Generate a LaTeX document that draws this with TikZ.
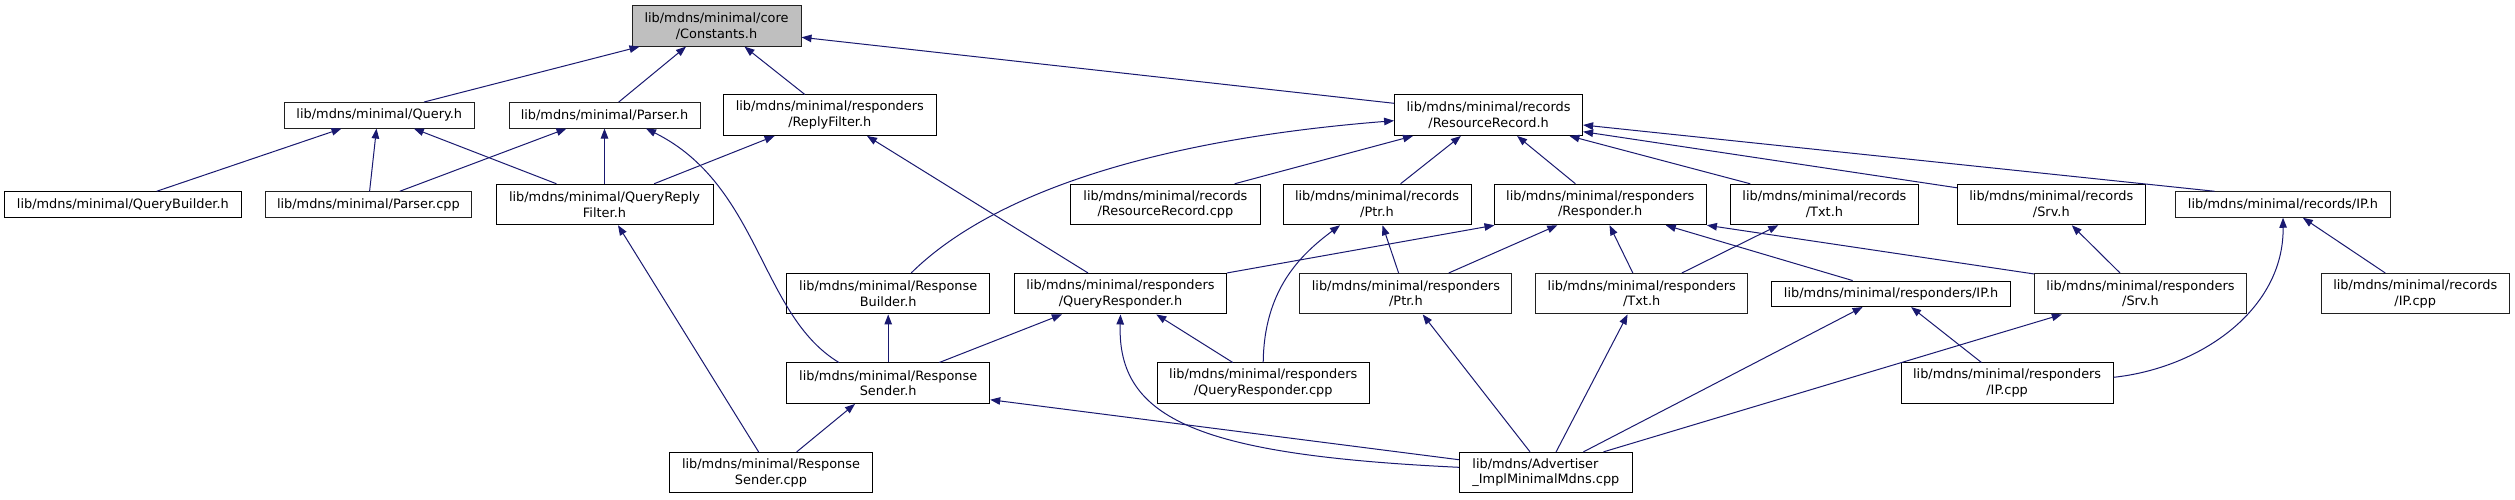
\documentclass[tikz,border=0pt]{standalone}
\usepackage{fontspec}
\setmainfont{DejaVu Sans}
\usetikzlibrary{arrows.meta,calc}
\definecolor{edgecol}{HTML}{191970}
\definecolor{graybord}{HTML}{202020}
\definecolor{rootfill}{HTML}{BFBFBF}
\begin{document}
\begin{tikzpicture}[x=1pt,y=-1pt,
  box/.style={draw=black, line width=1pt, fill=white, inner sep=0pt, align=center,
    font=\fontsize{12.9}{15.7}\selectfont, minimum height=25.5pt},
  two/.style={minimum height=40.5pt},
  gbox/.style={box, draw=graybord},
  arr/.style={draw=edgecol, line width=1pt, -{Triangle[length=10pt,width=7.5pt]}}
]
\useasboundingbox[fill=white] (0,0) rectangle (2515,499);

% row 0
\node[gbox,two,fill=rootfill,minimum width=169pt] (const) at (716.5,25.9) {lib/mdns/minimal/core\\/Constants.h};
% row 1
\node[gbox,minimum width=189.5pt] (query) at (379.3,115.3) {lib/mdns/minimal/Query.h};
\node[gbox,minimum width=191pt] (parserh) at (604.5,115.3) {lib/mdns/minimal/Parser.h};
\node[box,two,minimum width=212.4pt] (replyfilter) at (829.8,115.2) {lib/mdns/minimal/responders\\/ReplyFilter.h};
\node[box,two,minimum width=188pt] (rrh) at (1488.6,115.2) {lib/mdns/minimal/records\\/ResourceRecord.h};
% row 2
\node[box,minimum width=236.2pt] (qbuilder) at (122.9,204.5) {lib/mdns/minimal/QueryBuilder.h};
\node[gbox,minimum width=206.7pt] (parsercpp) at (368.4,204.5) {lib/mdns/minimal/Parser.cpp};
\node[box,two,minimum width=217pt] (qreplyfilter) at (604.5,204.5) {lib/mdns/minimal/QueryReply\\Filter.h};
\node[box,two,minimum width=189.3pt] (rrcpp) at (1165.4,204.5) {lib/mdns/minimal/records\\/ResourceRecord.cpp};
\node[box,two,minimum width=188pt] (recptr) at (1377,204.5) {lib/mdns/minimal/records\\/Ptr.h};
\node[box,two,minimum width=212.4pt] (responder) at (1600.2,204.5) {lib/mdns/minimal/responders\\/Responder.h};
\node[box,two,minimum width=187.8pt] (rectxt) at (1824.4,204.5) {lib/mdns/minimal/records\\/Txt.h};
\node[box,two,minimum width=188pt] (recsrv) at (2051.3,204.5) {lib/mdns/minimal/records\\/Srv.h};
\node[gbox,minimum width=215pt] (recip) at (2283,204.5) {lib/mdns/minimal/records/IP.h};
% row 3
\node[box,two,minimum width=203pt] (rbuilder) at (888.2,293.7) {lib/mdns/minimal/Response\\Builder.h};
\node[box,two,minimum width=212pt] (qresponder) at (1120.5,293.7) {lib/mdns/minimal/responders\\/QueryResponder.h};
\node[gbox,two,minimum width=212pt] (respptr) at (1405.9,293.7) {lib/mdns/minimal/responders\\/Ptr.h};
\node[gbox,two,minimum width=212pt] (resptxt) at (1641.7,293.7) {lib/mdns/minimal/responders\\/Txt.h};
\node[box,minimum width=239.4pt] (respip) at (1891.1,293.8) {lib/mdns/minimal/responders/IP.h};
\node[gbox,two,minimum width=212pt] (respsrv) at (2140.5,293.7) {lib/mdns/minimal/responders\\/Srv.h};
\node[gbox,two,minimum width=187.7pt] (recipcpp) at (2415.2,293.7) {lib/mdns/minimal/records\\/IP.cpp};
% row 4
\node[box,two,minimum width=203pt] (rsender) at (888.2,383.2) {lib/mdns/minimal/Response\\Sender.h};
\node[box,two,minimum width=212.3pt] (qrespcpp) at (1263.2,383.2) {lib/mdns/minimal/responders\\/QueryResponder.cpp};
\node[box,two,minimum width=212pt] (respipcpp) at (2007.1,383.2) {lib/mdns/minimal/responders\\/IP.cpp};
% row 5
\node[box,two,minimum width=202.5pt] (rsendercpp) at (771,472.6) {lib/mdns/minimal/Response\\Sender.cpp};
\node[box,two,minimum width=173pt,align=left] (advertiser) at (1545.9,472.6) {lib/mdns/Advertiser\\\_ImplMinimalMdns.cpp};

% edges (child -> included parent)
\draw[arr] ($(query.north)+(44.6,0)$) -- ($(const.south)+(-77,0)$);
\draw[arr] ($(parserh.north)+(14.2,0)$) -- ($(const.south)+(-30.5,0)$);
\draw[arr] ($(replyfilter.north)+(-25,0)$) -- ($(const.south)+(28,0)$);
\draw[arr] ($(rrh.west)+(0,-11.9)$) -- ($(const.east)+(0,11.4)$);

\draw[arr] ($(qbuilder.north)+(33.8,0)$) -- ($(query.south)+(-37.8,0)$);
\draw[arr] ($(parsercpp.north)+(1.2,0)$) -- ($(query.south)+(-2.8,0)$);
\draw[arr] ($(qreplyfilter.north)+(-48.1,0)$) -- ($(query.south)+(34.5,0)$);
\draw[arr] ($(parsercpp.north)+(31.4,0)$) -- ($(parserh.south)+(-38,0)$);
\draw[arr] (qreplyfilter.north) -- (parserh.south);
\draw[arr] ($(rsender.north)+(-49.3,0)$) .. controls (760,315) and (760,185) .. ($(parserh.south)+(41.5,0)$);

\draw[arr] ($(qreplyfilter.north)+(49.6,0)$) -- ($(replyfilter.south)+(-55.2,0)$);
\draw[arr] ($(qresponder.north)+(-32.5,0)$) -- ($(replyfilter.south)+(37.2,0)$);
\draw[arr] ($(rsendercpp.north)+(-12.4,0)$) -- ($(qreplyfilter.south)+(13.5,0)$);

\draw[arr] ($(rbuilder.north)+(23,0)$) .. controls (990,195) and (1150,140) .. ($(rrh.west)+(0,5.5)$);
\draw[arr] ($(rrcpp.north)+(69.3,0)$) -- ($(rrh.south)+(-75.6,0)$);
\draw[arr] ($(recptr.north)+(23.6,0)$) -- ($(rrh.south)+(-27.7,0)$);
\draw[arr] ($(responder.north)+(-24.8,0)$) -- ($(rrh.south)+(28.5,0)$);
\draw[arr] ($(rectxt.north)+(-74.2,0)$) -- ($(rrh.south)+(80.8,0)$);
\draw[arr] ($(recsrv.north west)+(0,4)$) -- ($(rrh.east)+(0,16.5)$);
\draw[arr] ($(recip.north)+(-68.5,0)$) -- ($(rrh.east)+(0,9.8)$);

\draw[arr] (rsender.north) -- (rbuilder.south);
\draw[arr] ($(rsender.north)+(51.2,0)$) -- ($(qresponder.south)+(-58.6,0)$);
\draw[arr] ($(qrespcpp.north)+(-30.5,0)$) -- ($(qresponder.south)+(35.8,0)$);
\draw[arr] ($(advertiser.west)+(0,-5.3)$) .. controls (1200,455) and (1117,420) .. (qresponder.south);

\draw[arr] (qrespcpp.north) .. controls (1264,290) and (1300,255) .. ($(recptr.south)+(-37,0)$);
\draw[arr] ($(respptr.north)+(-7.3,0)$) -- ($(recptr.south)+(5.5,0)$);

\draw[arr] (qresponder.north east) -- ($(responder.south west)+(1,0)$);
\draw[arr] ($(respptr.north)+(42.9,0)$) -- ($(responder.south)+(-42.9,0)$);
\draw[arr] ($(resptxt.north)+(-8.9,0)$) -- ($(responder.south)+(9.3,0)$);
\draw[arr] ($(respip.north)+(-38.5,0)$) -- ($(responder.south)+(65.6,0)$);
\draw[arr] ($(respsrv.north west)+(0,1)$) -- (responder.south east);

\draw[arr] ($(resptxt.north)+(40.2,0)$) -- ($(rectxt.south)+(-46.1,0)$);
\draw[arr] ($(respsrv.north)+(-20.5,0)$) -- ($(recsrv.south)+(20.5,0)$);
\draw[arr] ($(recipcpp.north)+(-30,0)$) -- ($(recip.south)+(19.8,0)$);
\draw[arr] ($(respipcpp.east)+(0,-5.9)$) .. controls (2200,368) and (2284,310) .. (recip.south);

\draw[arr] ($(rsendercpp.north)+(25.7,0)$) -- ($(rsender.south)+(-33.2,0)$);
\draw[arr] ($(advertiser.west)+(0,-12.9)$) -- ($(rsender.east)+(0,16.5)$);
\draw[arr] ($(advertiser.north)+(-15.9,0)$) -- ($(respptr.south)+(16.8,0)$);
\draw[arr] ($(advertiser.north)+(10.2,0)$) -- ($(resptxt.south)+(-14.1,0)$);
\draw[arr] ($(advertiser.north)+(37.5,0)$) -- ($(respip.south)+(-28.5,0)$);
\draw[arr] ($(advertiser.north)+(57.6,0)$) -- ($(respsrv.south)+(-78.7,0)$);
\draw[arr] ($(respipcpp.north)+(-25.7,0)$) -- ($(respip.south)+(20,0)$);
\end{tikzpicture}
\end{document}
